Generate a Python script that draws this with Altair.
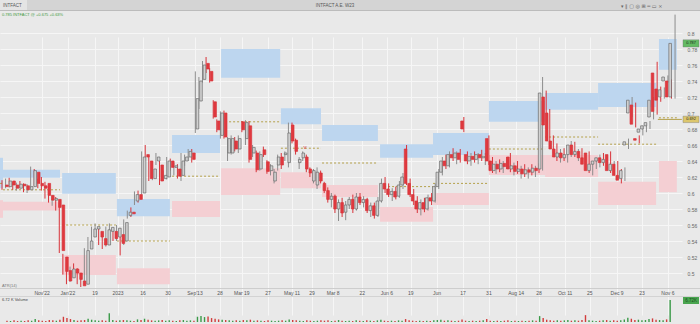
import altair as alt
import pandas as pd

# ---------------- data ----------------
# (open, high, low, close) per session
CANDLES = [
    (0.610,0.616,0.604,0.608),(0.608,0.618,0.606,0.615),(0.615,0.619,0.607,0.610),(0.610,0.614,0.604,0.606),
    (0.606,0.613,0.603,0.611),(0.611,0.615,0.606,0.609),(0.609,0.612,0.601,0.604),(0.604,0.611,0.600,0.608),
    (0.608,0.633,0.606,0.628),(0.626,0.630,0.609,0.612),(0.612,0.618,0.606,0.609),(0.609,0.620,0.603,0.606),
    (0.612,0.614,0.593,0.597),(0.597,0.600,0.588,0.591),(0.591,0.597,0.584,0.593),(0.592,0.595,0.578,0.582),
    (0.585,0.588,0.525,0.528),(0.520,0.524,0.498,0.502),(0.503,0.512,0.486,0.490),(0.494,0.508,0.489,0.505),
    (0.505,0.512,0.497,0.500),(0.500,0.506,0.486,0.492),(0.490,0.493,0.4825,0.484),(0.486,0.531,0.485,0.528),
    (0.530,0.545,0.528,0.540),(0.545,0.558,0.540,0.555),(0.555,0.562,0.550,0.558),(0.552,0.556,0.535,0.545),
    (0.543,0.548,0.530,0.535),(0.535,0.558,0.533,0.554),(0.552,0.562,0.545,0.557),(0.552,0.556,0.540,0.543),
    (0.545,0.560,0.540,0.556),(0.548,0.556,0.522,0.537),(0.540,0.567,0.535,0.563),(0.572,0.578,0.568,0.576),
    (0.576,0.582,0.570,0.574),(0.590,0.602,0.585,0.598),(0.598,0.603,0.588,0.592),(0.600,0.652,0.598,0.645),
    (0.648,0.660,0.640,0.645),(0.640,0.645,0.615,0.618),(0.618,0.640,0.616,0.630),(0.640,0.650,0.635,0.645),
    (0.635,0.640,0.610,0.615),(0.618,0.628,0.615,0.622),(0.620,0.645,0.617,0.640),(0.640,0.643,0.628,0.632),
    (0.632,0.638,0.622,0.634),(0.630,0.636,0.618,0.621),(0.622,0.650,0.615,0.640),(0.640,0.648,0.634,0.645),
    (0.645,0.655,0.640,0.652),(0.650,0.655,0.638,0.642),(0.680,0.752,0.675,0.718),(0.715,0.745,0.705,0.740),
    (0.742,0.765,0.738,0.760),(0.762,0.770,0.750,0.755),(0.752,0.756,0.738,0.740),(0.714,0.716,0.693,0.695),
    (0.690,0.692,0.676,0.679),(0.672,0.702,0.668,0.700),(0.700,0.703,0.668,0.670),(0.650,0.670,0.640,0.668),
    (0.650,0.672,0.648,0.668),(0.665,0.670,0.652,0.655),(0.655,0.672,0.650,0.668),(0.689,0.690,0.676,0.679),
    (0.668,0.691,0.660,0.688),(0.684,0.690,0.638,0.642),(0.650,0.660,0.645,0.657),(0.650,0.653,0.626,0.629),
    (0.630,0.652,0.628,0.648),(0.654,0.658,0.645,0.648),(0.639,0.641,0.624,0.627),(0.628,0.636,0.622,0.634),
    (0.615,0.630,0.612,0.626),(0.635,0.648,0.628,0.645),(0.645,0.650,0.630,0.635),(0.648,0.652,0.640,0.650),
    (0.638,0.688,0.632,0.675),(0.685,0.688,0.662,0.665),(0.666,0.668,0.648,0.652),(0.638,0.645,0.630,0.642),
    (0.644,0.652,0.640,0.650),(0.645,0.648,0.626,0.630),(0.630,0.632,0.620,0.625),(0.615,0.630,0.612,0.628),
    (0.610,0.632,0.605,0.626),(0.625,0.628,0.612,0.615),(0.612,0.614,0.600,0.603),(0.603,0.607,0.588,0.592),
    (0.592,0.600,0.582,0.596),(0.596,0.598,0.575,0.580),(0.580,0.592,0.565,0.588),(0.588,0.594,0.570,0.575),
    (0.576,0.590,0.566,0.585),(0.585,0.595,0.580,0.592),(0.592,0.598,0.575,0.580),(0.580,0.600,0.578,0.595),
    (0.595,0.600,0.585,0.588),(0.588,0.596,0.582,0.592),(0.592,0.594,0.575,0.578),(0.578,0.588,0.570,0.584),
    (0.584,0.588,0.568,0.572),(0.572,0.595,0.570,0.590),(0.590,0.618,0.588,0.612),(0.612,0.620,0.600,0.605),
    (0.605,0.612,0.595,0.598),(0.598,0.606,0.590,0.602),(0.602,0.608,0.592,0.595),(0.596,0.615,0.594,0.610),
    (0.610,0.625,0.605,0.620),(0.655,0.660,0.610,0.612),(0.612,0.618,0.595,0.598),(0.598,0.605,0.585,0.590),
    (0.590,0.596,0.575,0.580),(0.580,0.592,0.572,0.588),(0.588,0.594,0.576,0.580),(0.580,0.598,0.578,0.594),
    (0.594,0.600,0.585,0.590),(0.590,0.612,0.588,0.608),(0.608,0.630,0.605,0.626),(0.626,0.645,0.622,0.640),
    (0.640,0.648,0.630,0.634),(0.634,0.652,0.632,0.648),(0.648,0.656,0.640,0.644),(0.644,0.652,0.636,0.650),
    (0.650,0.655,0.638,0.642),(0.690,0.695,0.676,0.680),(0.648,0.652,0.636,0.640),(0.640,0.650,0.634,0.646),
    (0.646,0.652,0.638,0.642),(0.642,0.650,0.636,0.648),(0.648,0.654,0.640,0.644),(0.644,0.650,0.635,0.646),
    (0.668,0.672,0.635,0.640),(0.640,0.645,0.625,0.628),(0.628,0.640,0.624,0.636),(0.636,0.642,0.626,0.630),
    (0.630,0.640,0.625,0.637),(0.637,0.645,0.630,0.633),(0.645,0.650,0.626,0.630),(0.630,0.638,0.622,0.634),
    (0.634,0.640,0.624,0.627),(0.627,0.634,0.618,0.630),(0.630,0.636,0.620,0.624),(0.624,0.632,0.618,0.629),
    (0.629,0.636,0.622,0.626),(0.626,0.634,0.620,0.631),(0.631,0.637,0.625,0.628),(0.630,0.745,0.628,0.725),
    (0.720,0.728,0.680,0.685),(0.700,0.705,0.660,0.665),(0.665,0.672,0.650,0.655),(0.655,0.662,0.640,0.645),
    (0.645,0.655,0.638,0.650),(0.650,0.656,0.640,0.644),(0.644,0.652,0.638,0.648),(0.648,0.665,0.645,0.660),
    (0.660,0.664,0.645,0.648),(0.648,0.655,0.640,0.652),(0.652,0.656,0.640,0.644),(0.644,0.650,0.632,0.636),
    (0.650,0.652,0.625,0.628),(0.628,0.640,0.622,0.636),(0.636,0.644,0.630,0.640),(0.640,0.648,0.632,0.644),
    (0.644,0.650,0.634,0.638),(0.638,0.646,0.630,0.642),(0.648,0.652,0.625,0.628),(0.628,0.640,0.624,0.636),
    (0.636,0.640,0.618,0.622),(0.622,0.630,0.612,0.616),(0.618,0.632,0.615,0.628),(0.660,0.668,0.655,0.664),
    (0.700,0.720,0.695,0.716),(0.710,0.713,0.682,0.686),(0.668,0.672,0.662,0.666),(0.676,0.684,0.672,0.680),
    (0.680,0.686,0.676,0.684),(0.684,0.690,0.680,0.688),(0.695,0.720,0.692,0.716),(0.750,0.764,0.698,0.702),
    (0.730,0.733,0.714,0.716),(0.720,0.732,0.718,0.729),(0.740,0.747,0.738,0.745),(0.740,0.742,0.718,0.720),
    (0.720,0.823,0.718,0.787),
]

# volume per session, thousands
VOLUME = [
    0.4,0.3,0.5,0.3,0.4,0.3,0.5,0.4,0.9,0.5,
    0.4,0.3,0.6,0.5,0.4,0.7,1.6,1.2,0.9,0.6,
    0.4,0.5,0.6,1.0,0.7,0.5,0.4,0.5,0.4,2.7,
    0.6,0.4,0.5,0.6,0.5,0.4,0.3,0.8,0.6,1.0,
    0.7,0.5,0.4,0.5,0.6,0.4,0.5,0.4,0.3,0.5,
    0.6,0.4,0.5,0.4,1.6,1.8,1.5,1.7,1.2,1.0,
    0.8,0.7,0.6,0.5,0.4,0.5,0.4,0.6,0.5,0.7,
    0.4,0.5,0.4,0.3,0.5,0.4,0.3,0.4,0.5,0.4,
    0.8,0.6,0.5,0.4,0.3,0.5,0.4,0.3,0.4,0.5,
    0.4,0.5,0.3,0.4,0.6,0.4,0.3,0.4,0.3,0.5,
    0.4,0.3,0.5,0.4,0.3,0.5,0.7,0.4,0.3,0.4,
    0.3,0.5,0.4,0.9,0.5,0.4,0.3,0.4,0.3,0.4,
    0.3,0.5,0.6,0.7,0.4,0.5,0.4,0.3,0.4,0.8,
    0.4,0.3,0.4,0.3,0.4,0.5,0.9,0.4,0.3,0.4,
    0.3,0.4,0.5,0.3,0.4,0.3,0.4,0.3,0.4,0.5,
    0.4,1.8,1.2,0.7,0.5,0.4,0.5,0.4,0.5,0.6,
    0.4,0.5,0.4,0.6,2.1,0.5,0.4,0.3,0.4,0.5,
    0.6,0.4,0.5,0.4,0.5,0.8,1.3,1.0,0.6,0.7,
    0.5,0.6,0.9,1.1,0.7,0.6,0.5,0.8,6.72,
]

# monthly zones (session index range) with supply (blue) / demand (pink) bands and mid level
ZONE_START = [-0.56, 0.28, 16.8, 32.1, 47.5, 61.2, 77.9, 89.4, 105.6, 120.4, 136.0, 151.7, 166.5, 183.5]
ZONE_END = [0.28, 16.2, 31.8, 46.9, 60.9, 77.7, 89.1, 105.0, 120.4, 136.0, 151.7, 166.5, 182.7, 188.5]
SUPPLY_TOP = [0.644, 0.629, 0.625, 0.5925, 0.6725, 0.780, 0.706, 0.685, 0.661, 0.675, 0.715, 0.725, 0.7375, 0.7925]
SUPPLY_BOT = [0.606, 0.619, 0.599, 0.571, 0.650, 0.744, 0.686, 0.665, 0.644, 0.6475, 0.689, 0.704, 0.7075, 0.754]
DEMAND_TOP = [0.591, 0.589, 0.5225, 0.506, 0.590, 0.631, 0.626, 0.610, 0.5825, 0.600, 0.6475, 0.6475, 0.614, 0.640]
DEMAND_BOT = [0.569, 0.578, 0.4975, 0.486, 0.570, 0.5975, 0.606, 0.595, 0.564, 0.585, 0.6225, 0.620, 0.585, 0.601]
MID_LEVEL = [0.612, 0.604, 0.560, 0.540, 0.621, 0.689, 0.656, 0.6375, 0.608, 0.612, 0.655, 0.670, 0.661, 0.694]

X_TICK_POS = [11.2, 18.4, 26, 32.4, 39.4, 46.4, 53.9, 60.9, 67, 74.3, 81, 86.6, 92.5, 100.6,
              107.5, 114.2, 121.5, 128.8, 136, 143.6, 150, 157.3, 164.2, 171.8, 178.8, 186]
X_TICK_LABELS = ["Nov'22", "Jan'22", "19", "2023", "16", "30", "Sep'13", "28", "Mar 19", "27",
                 "May 11", "29", "Mar 8", "22", "Jun 6", "19", "Jun", "17", "31", "Aug 14",
                 "28", "Oct 11", "25", "Dec 9", "23", "Nov 6"]
Y_TICKS = [0.5, 0.52, 0.54, 0.56, 0.58, 0.6, 0.62, 0.64, 0.66, 0.68, 0.7, 0.72, 0.74, 0.76, 0.78, 0.8]

LAST_PRICE = 0.787
LEVEL_PRICE = 0.692
LAST_VOLUME_LABEL = "6.72K"

# ---------------- tables ----------------
candles = pd.DataFrame(CANDLES, columns=["open", "high", "low", "close"])
candles["i"] = range(len(candles))
candles["vol"] = VOLUME
candles["dir"] = ["up" if c >= o else "down" for o, c in zip(candles["open"], candles["close"])]

zones = pd.DataFrame({"start": ZONE_START, "end": ZONE_END, "stop": SUPPLY_TOP, "sbot": SUPPLY_BOT,
                      "dtop": DEMAND_TOP, "dbot": DEMAND_BOT, "mid": MID_LEVEL})
xticks = pd.DataFrame({"pos": X_TICK_POS, "label": X_TICK_LABELS})

FONT = "Liberation Sans"
BG = "#e9e9e9"
GRID = "#f6f6f6"

xs = alt.Scale(domain=[-0.56, 189.94], range=[0, 682], nice=False, zero=False)
ys = alt.Scale(domain=[0.4825, 0.83], range=[287, 9], nice=False, zero=False)
vs = alt.Scale(domain=[0, 6.72], range=[322, 300], nice=False, zero=True)

X = lambda f: alt.X(f, type="quantitative", scale=xs, axis=None)
Y = lambda f: alt.Y(f, type="quantitative", scale=ys, axis=None)

dir_stroke = alt.Scale(domain=["up", "down"], range=["#6a6a6a", "#d8333a"])
dir_wick = alt.Scale(domain=["up", "down"], range=["#8c8c8c", "#d8333a"])
dir_fill = alt.Scale(domain=["up", "down"], range=["#d2d2d2", "#e0393f"])
vol_color = alt.Scale(domain=["up", "down"], range=["#3a9a48", "#d23c3c"])

# grid layer (axes only)
grid = alt.Chart(candles).mark_point(opacity=0).encode(
    x=alt.X("i:Q", scale=xs, axis=alt.Axis(values=X_TICK_POS, labels=False, ticks=False, domain=False,
                                           grid=True, gridColor=GRID, gridWidth=1, title=None)),
    y=alt.Y("close:Q", scale=ys, axis=alt.Axis(orient="right", values=Y_TICKS, format=".2~f",
                                                labelFontSize=5, labelColor="#666", labelFont=FONT,
                                                labelPadding=5, ticks=False, domain=False, grid=True,
                                                gridColor=GRID, gridWidth=1, title=None)),
)

supply = alt.Chart(zones).mark_rect(color="#bdd6ef").encode(x=X("start"), x2="end", y=Y("stop"), y2="sbot")
demand = alt.Chart(zones).mark_rect(color="#f4cfd3").encode(x=X("start"), x2="end", y=Y("dtop"), y2="dbot")
mids = alt.Chart(zones).mark_rule(color="#b4a04a", strokeDash=[2, 2], strokeWidth=1).encode(
    x=X("start"), x2="end", y=Y("mid"))

wicks = alt.Chart(candles).mark_rule(strokeWidth=1).encode(
    x=X("i"), y=Y("low"), y2="high",
    color=alt.Color("dir:N", scale=dir_wick, legend=None))
bodies = alt.Chart(candles).mark_bar(size=2.6, strokeWidth=0.7).encode(
    x=X("i"), y=Y("open"), y2="close",
    fill=alt.Fill("dir:N", scale=dir_fill, legend=None),
    stroke=alt.Stroke("dir:N", scale=dir_stroke, legend=None))

volume = alt.Chart(candles).mark_bar(size=1.4).encode(
    x=X("i"), y=alt.Y("vol:Q", scale=vs, axis=None),
    color=alt.Color("dir:N", scale=vol_color, legend=None))

xlabels = alt.Chart(xticks).mark_text(fontSize=5, color="#555", font=FONT, baseline="middle").encode(
    x=X("pos"), y=alt.value(293), text="label:N")

# separators
sep = alt.Chart(pd.DataFrame({"k": [0]})).mark_rule(color="#cdcdcd", strokeWidth=1).encode(
    x=alt.value(0), x2=alt.value(700), y=alt.value(288.5))
sep2 = alt.Chart(pd.DataFrame({"k": [0]})).mark_rule(color="#d3d3d3", strokeWidth=1).encode(
    x=alt.value(0), x2=alt.value(700), y=alt.value(296.5))

# header
header = alt.Chart(pd.DataFrame({"k": [0]})).mark_rect(color="#d4d4d4").encode(
    x=alt.value(0), x2=alt.value(700), y=alt.value(0), y2=alt.value(10))
tab = alt.Chart(pd.DataFrame({"k": [0]})).mark_rect(color="#e4e4e4").encode(
    x=alt.value(0), x2=alt.value(27), y=alt.value(0), y2=alt.value(10))
hline = alt.Chart(pd.DataFrame({"k": [0]})).mark_rule(color="#bcbcbc").encode(
    x=alt.value(0), x2=alt.value(700), y=alt.value(10.5))
tab_text = alt.Chart(pd.DataFrame({"t": ["INTFACT"]})).mark_text(
    fontSize=4.5, color="#555", font=FONT, align="left", baseline="middle").encode(
    x=alt.value(3), y=alt.value(5.5), text="t:N")
title_text = alt.Chart(pd.DataFrame({"t": ["INTFACT A.E. W23"]})).mark_text(
    fontSize=4.5, color="#555", font=FONT, align="center", baseline="middle").encode(
    x=alt.value(335), y=alt.value(5.5), text="t:N")
icons = alt.Chart(pd.DataFrame({"t": ["▾  ‖  ▢  ◎  ⊞  ═  ▭  ×"]})).mark_text(
    fontSize=5, color="#666", font="DejaVu Sans", align="left", baseline="middle").encode(
    x=alt.value(621), y=alt.value(5.5), text="t:N")
quote = alt.Chart(pd.DataFrame({"t": ["0.785 INTFACT @ +0.675 +0.63%"]})).mark_text(
    fontSize=4, color="#3f9a3f", font=FONT, align="left", baseline="middle").encode(
    x=alt.value(2), y=alt.value(14.5), text="t:N")

atr = alt.Chart(pd.DataFrame({"t": ["ATR(14)"]})).mark_text(
    fontSize=4, color="#777", font=FONT, align="left", baseline="middle").encode(
    x=alt.value(2), y=alt.value(285.5), text="t:N")
vol_title = alt.Chart(pd.DataFrame({"t": ["6.72 K Volume"]})).mark_text(
    fontSize=4, color="#444", font=FONT, align="left", baseline="middle").encode(
    x=alt.value(2), y=alt.value(299.5), text="t:N")

marker = alt.Chart(pd.DataFrame({"i": [84.6], "p": [0.657], "t": ["v"]})).mark_text(
    fontSize=6, color="#d8333a", font=FONT, baseline="middle").encode(x=X("i"), y=Y("p"), text="t:N")

# price tags on the axis
tags = pd.DataFrame({"p": [LAST_PRICE, LEVEL_PRICE], "top": [LAST_PRICE + 0.0045, LEVEL_PRICE + 0.004],
                     "bot": [LAST_PRICE - 0.0045, LEVEL_PRICE - 0.004],
                     "t": [f"{LAST_PRICE:.3f}", f"{LEVEL_PRICE:.3f}"], "kind": ["last", "level"]})
tag_rect = alt.Chart(tags).mark_rect(stroke="#777", strokeWidth=0.4).encode(
    x=alt.value(683), x2=alt.value(699), y=Y("top"), y2="bot",
    fill=alt.Fill("kind:N", scale=alt.Scale(domain=["last", "level"], range=["#63bb63", "#dcc66c"]), legend=None))
tag_text = alt.Chart(tags).mark_text(fontSize=3.8, color="#222", font=FONT, baseline="middle").encode(
    x=alt.value(691), y=Y("p"), text="t:N")
level_line = alt.Chart(pd.DataFrame({"a": [183.2], "b": [189.9], "p": [LEVEL_PRICE]})).mark_rule(
    color="#b4a04a", strokeWidth=1).encode(x=X("a"), x2="b", y=Y("p"))

vtag = alt.Chart(pd.DataFrame({"v": [6.72], "t": [LAST_VOLUME_LABEL]}))
vtag_rect = vtag.mark_rect(color="#49a54f").encode(x=alt.value(683), x2=alt.value(699), y=alt.value(297), y2=alt.value(304))
vtag_text = vtag.mark_text(fontSize=4.5, color="#1d4d1d", font=FONT, baseline="middle").encode(
    x=alt.value(691), y=alt.value(300.5), text="t:N")

chart = alt.layer(
    grid, supply, demand, mids, level_line, wicks, bodies, marker, volume, xlabels,
    sep, sep2, header, tab, hline, tab_text, title_text, icons, quote, atr, vol_title,
    tag_rect, tag_text, vtag_rect, vtag_text,
).resolve_scale(
    x="independent", y="independent", fill="independent", stroke="independent", color="independent"
).properties(
    width=682, height=324,
    padding={"left": 0, "top": 0, "right": 18, "bottom": 0},
    autosize=alt.AutoSizeParams(type="none"),
    background=BG,
).configure_view(
    fill=BG, stroke=None
)

chart.save("out.html", embed_options={"renderer": "svg", "actions": False})
